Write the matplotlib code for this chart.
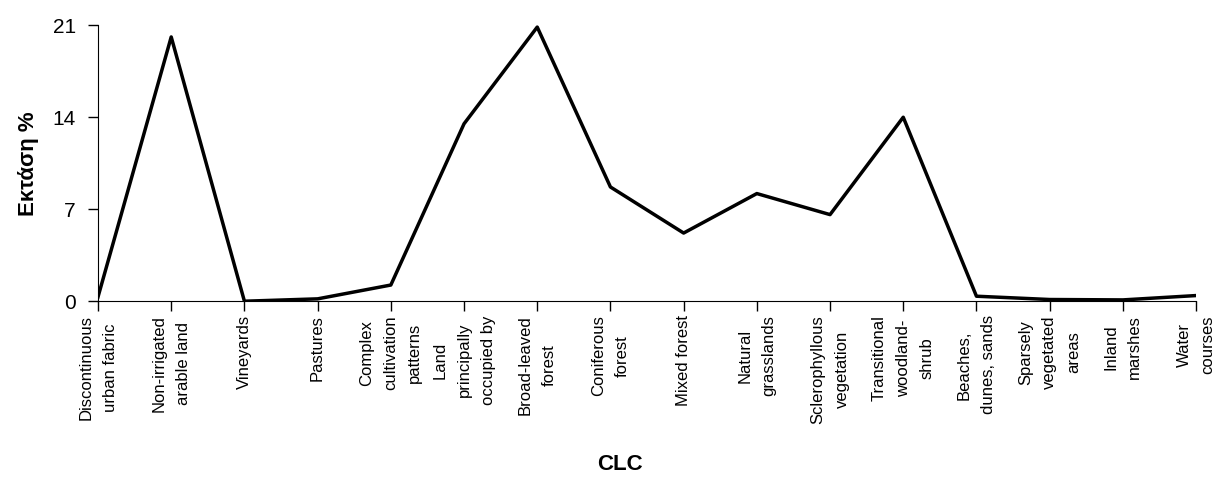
import matplotlib.pyplot as plt

plt.rcParams['font.family'] = ['Liberation Sans', 'DejaVu Sans']

# CLC classes and share of area (%)
categories = ["Discontinuous\nurban fabric", "Non-irrigated\narable land", "Vineyards",
              "Pastures", "Complex\ncultivation\npatterns", "Land\nprincipally\noccupied by",
              "Broad-leaved\nforest", "Coniferous\nforest", "Mixed forest",
              "Natural\ngrasslands", "Sclerophyllous\nvegetation", "Transitional\nwoodland-\nshrub",
              "Beaches,\ndunes, sands", "Sparsely\nvegetated\nareas", "Inland\nmarshes",
              "Water\ncourses"]
area = [0.35, 20.1, 0.02, 0.2, 1.25, 13.5, 20.85, 8.7, 5.2, 8.2, 6.6, 14.0,
        0.4, 0.15, 0.12, 0.45]
yticks = [0, 7, 14, 21]

fig = plt.figure(figsize=(12.16, 4.79), dpi=100)
ax = fig.add_axes([0.0806, 0.3706, 0.903, 0.577])

x = list(range(len(categories)))
ax.plot(x, area, color='black', linewidth=2.5)

ax.set_xlim(0, len(categories) - 1)
ax.set_ylim(0, 21)
ax.set_yticks(yticks)
ax.set_yticklabels([str(v) for v in yticks], fontsize=15)
ax.set_xticks(x)
ax.set_xticklabels(categories, rotation=90, fontsize=12, ha='center', va='top',
                   multialignment='center', linespacing=1.75)

ax.spines['top'].set_visible(False)
ax.spines['right'].set_visible(False)
ax.tick_params(axis='both', direction='out', length=7, width=1)
ax.tick_params(axis='y', pad=9)
ax.tick_params(axis='x', pad=3)

ax.set_ylabel('Εκτάση %', fontsize=16, fontweight='bold', labelpad=10)
fig.text(0.51, 0.03, 'CLC', fontsize=16, fontweight='bold', ha='center', va='center')

plt.savefig('out.png', dpi=100)
